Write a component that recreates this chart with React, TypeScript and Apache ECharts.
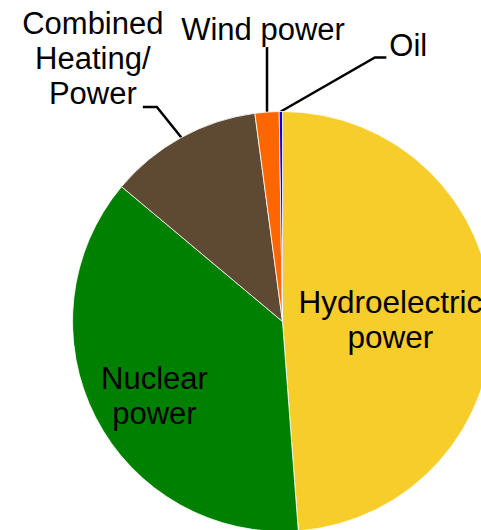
import React, { useEffect, useRef } from "react";
import * as echarts from "echarts";

const categories = ["Hydroelectric\npower", "Nuclear\npower", "Combined\nHeating/\nPower", "Wind power", "Oil"];
const shares = [48.8, 37.3, 11.8, 1.85, 0.25];
const colors = ["#F6CD2B", "#008000", "#5E4A33", "#FF6600", "#0000FF"];
const insideLabels = [true, true, false, false, false];

const FONT = "'Liberation Sans', Arial, sans-serif";

export default function App() {
  const ref = useRef<HTMLDivElement>(null);
  useEffect(() => {
    if (!ref.current) return;
    const chart = echarts.init(ref.current, null, { renderer: "svg" });
    const data = categories.map((name, i) => ({
      name,
      value: shares[i],
      itemStyle: { color: colors[i] },
      label: insideLabels[i]
        ? { position: "inside", fontSize: i === 0 ? 31.5 : 31 }
        : { position: "outside" },
      labelLine: { show: !insideLabels[i] },
    }));
    chart.setOption({
      animation: false,
      series: [
        {
          type: "pie",
          center: [282.5, 321.5],
          radius: 210,
          startAngle: 90,
          clockwise: true,
          avoidLabelOverlap: false,
          data,
          itemStyle: { borderColor: "#ffffff", borderWidth: 0.8 },
          label: {
            show: true,
            formatter: "{b}",
            color: "#000",
            fontFamily: FONT,
            fontSize: 31,
            lineHeight: 35,
            alignTo: "none",
          },
          labelLine: {
            show: true,
            length: 40,
            length2: 14,
            lineStyle: { color: "#000", width: 2.5 },
          },
          emphasis: { disabled: true },
          labelLayout: (params: any) => {
            const i = params.dataIndex;
            if (i === 1) {
              return { dx: -32, dy: 25 };
            }
            if (i === 0) {
              return { dx: 0, dy: 2 };
            }
            const pts = params.labelLinePoints;
            if (!pts || !pts[0]) return {};
            const ex = pts[0][0];
            const ey = pts[0][1];
            if (i === 2) {
              return {
                x: ex - 88.5,
                y: ey - 26,
                align: "center",
                verticalAlign: "bottom",
                labelLinePoints: [
                  [ex, ey],
                  [ex - 24.5, ey - 30.4],
                  [ex - 38.5, ey - 30.4],
                ],
              };
            }
            if (i === 3) {
              return {
                x: ex - 4,
                y: ey - 83,
                align: "center",
                verticalAlign: "middle",
                labelLinePoints: [
                  [ex, ey],
                  [ex, ey - 65],
                  [ex, ey - 65],
                ],
              };
            }
            if (i === 4) {
              return {
                x: ex + 108.5,
                y: ey - 66,
                align: "left",
                verticalAlign: "middle",
                labelLinePoints: [
                  [ex, ey],
                  [ex + 94, ey - 54],
                  [ex + 105.5, ey - 54],
                ],
              };
            }
            return {};
          },
        },
      ],
    });
    return () => chart.dispose();
  }, []);
  return (
    <div
      ref={ref}
      style={{ position: "fixed", left: 0, top: 0, width: 481, height: 530, background: "#fff" }}
    />
  );
}
